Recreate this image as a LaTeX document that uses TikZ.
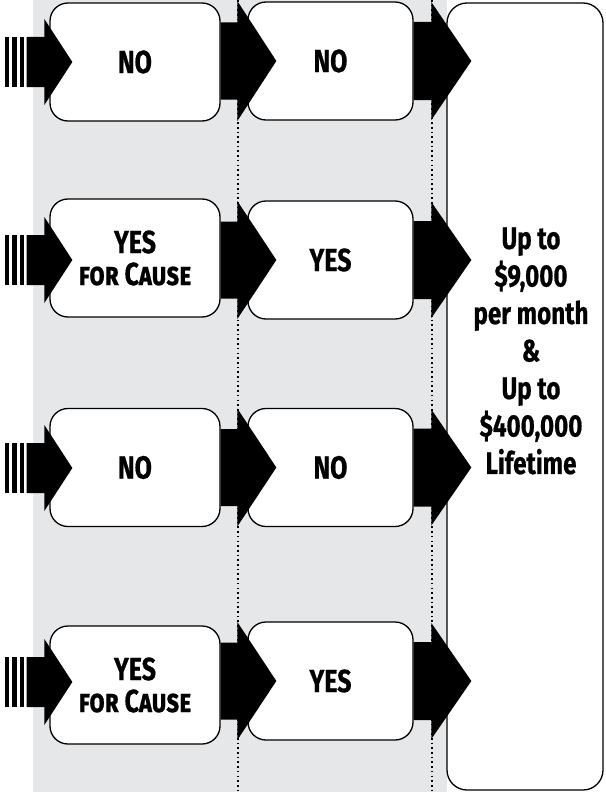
\documentclass[tikz,border=0pt]{standalone}
\usepackage{fontspec}
\setmainfont{Fira Sans}[FakeStretch=0.78, BoldFeatures={FakeBold=0.6}]
\usetikzlibrary{calc}
\definecolor{bggray}{HTML}{E6E7E8}
% #1 start point, #2 reference point (x of target, y centre), #3 head base offset, #4 tip offset, #5 shaft half height, #6 head half height
\newcommand\fatarrow[6]{\fill let \p1=#1, \p2=#2 in
  (\x1,\y2-#5pt) -- (\x2+#3pt,\y2-#5pt) -- (\x2+#3pt,\y2-#6pt) -- (\x2+#4pt,\y2)
  -- (\x2+#3pt,\y2+#6pt) -- (\x2+#3pt,\y2+#5pt) -- (\x1,\y2+#5pt) -- cycle;}
\begin{document}
\begin{tikzpicture}[x=1pt,y=-1pt,
  box/.style={draw=black, line width=1.3pt, fill=white, rounded corners=18pt,
    minimum height=118pt, inner sep=0pt, align=center,
    font=\fontsize{32}{32}\selectfont\bfseries},
  colone/.style={box, minimum width=170pt},
  coltwo/.style={box, minimum width=165pt},
  outbox/.style={draw=black, line width=1.3pt, fill=white, rounded corners=20pt,
    minimum width=156pt, minimum height=787pt, inner sep=0pt},
  outtext/.style={align=center, font=\fontsize{31}{37.5}\selectfont\bfseries},
  dotline/.style={line width=1.8pt, dash pattern=on 1.6pt off 3.1pt},
  stripe/.style={fill=black}
]
\useasboundingbox (0,0) rectangle (605,792);
\fill[bggray] (33,0) rectangle (447,792);
\draw[dotline] (238,0) -- (238,792);
\draw[dotline] (432,0) -- (432,792);

\node[outbox] (out) at (525,396.5) {};
\node[outtext] (outt) at (531,351) {Up to\\\$9,000\\per month\\\&\\Up to\\\$400,000\\Lifetime};

\node[colone] (b11) at (135,62) {NO};
\node[coltwo] (b12) at (330.5,61) {NO};
\node[colone] (b21) at (135,258) {YES\\\textsc{for Cause}};
\node[coltwo] (b22) at (330.5,260) {YES};
\node[colone] (b31) at (135,467.5) {NO};
\node[coltwo] (b32) at (330.5,467.5) {NO};
\node[colone] (b41) at (135,685) {YES\\\textsc{for Cause}};
\node[coltwo] (b42) at (330.5,681) {YES};

\foreach \r/\y in {1/62,2/260,3/468,4/682}{
  \coordinate (in\r) at (26.7,\y);
  \fill[stripe] (5,\y-25) rectangle (9,\y+25);
  \fill[stripe] (12.3,\y-25) rectangle (16.7,\y+25);
  \fill[stripe] (19.5,\y-25) rectangle (24,\y+25);
}
\fatarrow{(in1)}{(b11.west |- in1)}{-5}{23}{25}{43}
\fatarrow{(in2)}{(b21.west |- in2)}{-5}{23}{25}{43}
\fatarrow{(in3)}{(b31.west |- in3)}{-5}{23}{25}{43}
\fatarrow{(in4)}{(b41.west |- in4)}{-5}{23}{25}{43}

\fatarrow{(b11.east)}{(b12.west)}{-10}{29}{38.5}{60}
\fatarrow{(b21.east)}{(b22.west)}{-10}{29}{38.5}{59}
\fatarrow{(b31.east)}{(b32.west)}{-10}{29}{38.5}{59}
\fatarrow{(b41.east)}{(b42.west)}{-10}{29}{38.5}{59}

\fatarrow{(b12.east)}{(out.west |- b12.east)}{-15}{25}{39}{59}
\fatarrow{(b22.east)}{(out.west |- b22.east)}{-15}{25}{39}{58}
\fatarrow{(b32.east)}{(out.west |- b32.east)}{-15}{25}{39}{58}
\fatarrow{(b42.east)}{(out.west |- b42.east)}{-15}{25}{39}{58}
\end{tikzpicture}
\end{document}
